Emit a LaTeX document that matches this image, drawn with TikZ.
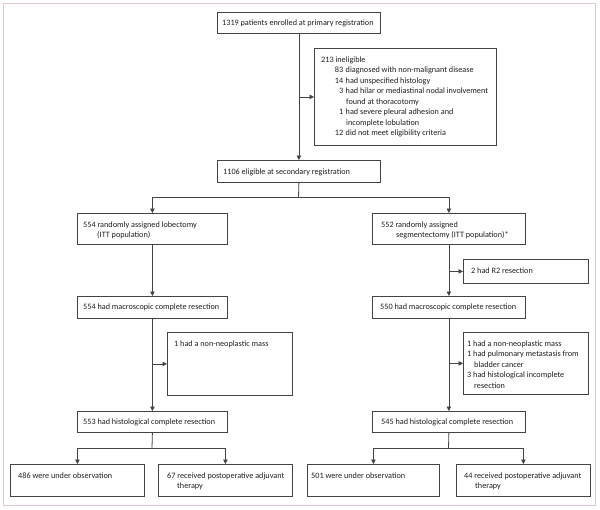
\documentclass[tikz,border=0pt]{standalone}
\usepackage{fontspec}
\setmainfont{Carlito}
\usetikzlibrary{arrows.meta}
\definecolor{ln}{HTML}{444444}
\definecolor{tx}{HTML}{1E1E1E}
\definecolor{pk}{HTML}{E6C3CC}
\tikzset{
  box/.style={draw=ln, line width=0.8pt, rectangle, inner sep=0pt, anchor=north west},
  txt/.style={font=\fontsize{8.2}{10.5}\selectfont, text=tx, inner sep=0pt, anchor=base west},
  conn/.style={draw=ln, line width=0.8pt},
  arr/.style={conn, -{Triangle[length=4.5pt,width=4.5pt]}},
  frame/.style={draw=pk, line width=1pt}
}
\newcommand{\flowbox}[8]{%
  \node[box, minimum width=#4pt, minimum height=#5pt,
    label={[txt, xshift=#6pt, yshift=-#7pt]north west:{#8}}] (#1) at (#2,#3) {};}
\newcommand{\tl}[1]{\begin{tabular}[t]{@{}l@{}}#1\end{tabular}}
\newcommand{\nm}[2]{\makebox[#1pt][r]{#2}}
\begin{document}
\begin{tikzpicture}[x=1pt,y=-1pt]
\useasboundingbox (0,0) rectangle (600,509);
\draw[frame] (3,3) rectangle (595,505);

\flowbox{b1}{217}{12}{163}{21}{5}{13.5}{1319 patients enrolled at primary registration}
\flowbox{ine}{314}{48}{182}{97}{7}{14}{\tl{213 ineligible\\
\hspace*{13pt}\nm{9}{83}\hspace{2.5pt}diagnosed with non-malignant disease\\
\hspace*{13pt}\nm{9}{14}\hspace{2.5pt}had unspecified histology\\
\hspace*{13pt}\nm{9}{3}\hspace{2.5pt}had hilar or mediastinal nodal involvement\\
\hspace*{25pt}found at thoracotomy\\
\hspace*{13pt}\nm{9}{1}\hspace{2.5pt}had severe pleural adhesion and\\
\hspace*{25pt}incomplete lobulation\\
\hspace*{13pt}\nm{9}{12}\hspace{2.5pt}did not meet eligibility criteria}}
\flowbox{b1106}{217}{160}{163}{22}{6}{14}{1106 eligible at secondary registration}
\flowbox{rL}{77}{213}{150}{31}{6}{14}{\tl{554 randomly assigned lobectomy\\\hspace*{14pt}(ITT population)}}
\flowbox{rR}{372}{213}{153}{31}{9}{14}{\tl{552 randomly assigned\\\hspace*{15pt}segmentectomy (ITT population)*}}
\flowbox{r2}{463}{259}{125}{24}{8}{14}{2 had R2 resection}
\flowbox{mL}{77}{296}{150}{22}{6}{13.5}{554 had macroscopic complete resection}
\flowbox{mR}{372}{296}{153}{22}{8}{13.5}{550 had macroscopic complete resection}
\flowbox{nL}{167}{332}{125}{63}{7}{14}{1 had a non-neoplastic mass}
\flowbox{nR}{463}{332}{125}{62}{3}{14}{\tl{\nm{5}{1}\hspace{2pt}had a non-neoplastic mass\\
\nm{5}{1}\hspace{2pt}had pulmonary metastasis from\\
\hspace*{8pt}bladder cancer\\
\nm{5}{3}\hspace{2pt}had histological incomplete\\
\hspace*{8pt}resection}}
\flowbox{hL}{77}{411}{150}{21}{6}{13.5}{553 had histological complete resection}
\flowbox{hR}{372}{411}{153}{21}{9}{13.5}{545 had histological complete resection}
\flowbox{l486}{10}{464}{134}{32}{8}{14}{486 were under observation}
\flowbox{l67}{158}{464}{134}{32}{9}{14}{\tl{67 received postoperative adjuvant\\\hspace*{10pt}therapy}}
\flowbox{l501}{307}{464}{132}{32}{4}{14}{501 were under observation}
\flowbox{l44}{456}{464}{134}{32}{8}{14}{\tl{44 received postoperative adjuvant\\\hspace*{11pt}therapy}}

\coordinate (s1) at (298.5,197);
\coordinate (s2) at (152,448);
\coordinate (s3) at (448.5,448);

\draw[arr] (b1.south) -- (b1106.north);
\draw[arr] (b1.south |- ine.west) -- (ine.west);
\draw[conn] (b1106.south) -- (s1);
\draw[arr] (s1) -| (rL.north);
\draw[arr] (s1) -| (rR.north);

\draw[arr] (rL.south) -- (mL.north);
\draw[arr] (rL.south |- nL.west) -- (nL.west);
\draw[arr] (mL.south) -- (hL.north);

\draw[arr] (rR.south) -- (mR.north);
\draw[arr] (rR.south |- r2.west) -- (r2.west);
\draw[arr] (mR.south) -- (hR.north);
\draw[arr] (mR.south |- nR.west) -- (nR.west);

\draw[conn] (hL.south) -- (s2);
\draw[arr] (s2) -| (l486.north);
\draw[arr] (s2) -| (l67.north);
\draw[conn] (hR.south) -- (s3);
\draw[arr] (s3) -| (l501.north);
\draw[arr] (s3) -| (l44.north);
\end{tikzpicture}
\end{document}
